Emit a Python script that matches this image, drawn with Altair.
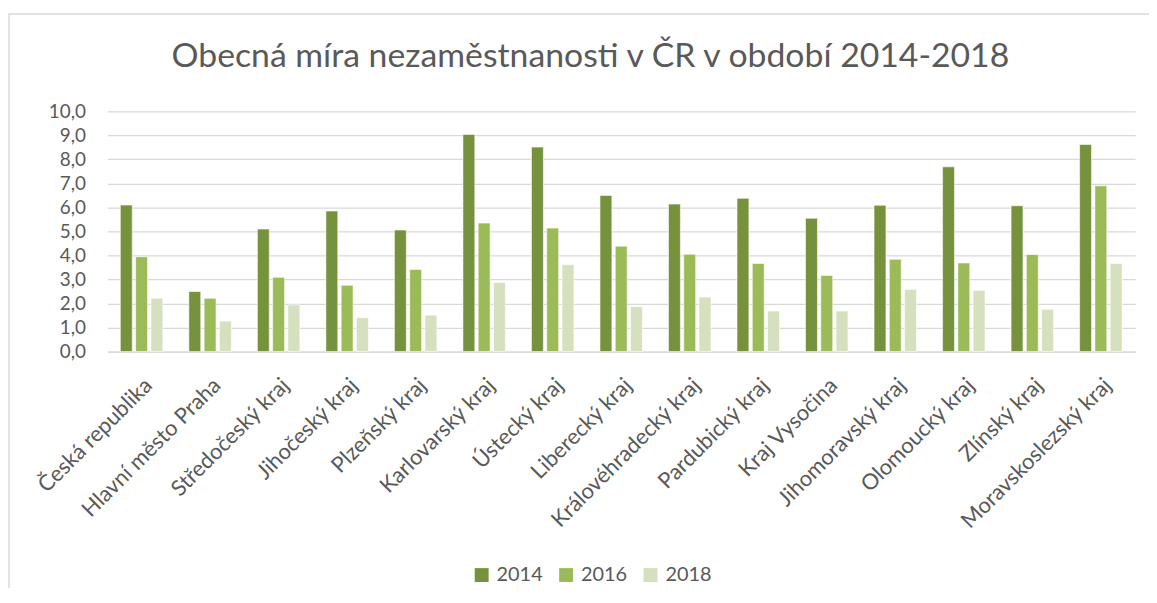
import altair as alt
import pandas as pd

regions = [
    "Česká republika", "Hlavní město Praha", "Středočeský kraj", "Jihočeský kraj",
    "Plzeňský kraj", "Karlovarský kraj", "Ústecký kraj", "Liberecký kraj",
    "Královéhradecký kraj", "Pardubický kraj", "Kraj Vysočina", "Jihomoravský kraj",
    "Olomoucký kraj", "Zlínský kraj", "Moravskoslezský kraj",
]
years = ["2014", "2016", "2018"]
v2014 = [6.1, 2.5, 5.1, 5.85, 5.06, 9.04, 8.51, 6.5, 6.14, 6.38, 5.55, 6.09, 7.69, 6.07, 8.62]
v2016 = [3.95, 2.22, 3.09, 2.76, 3.42, 5.35, 5.14, 4.39, 4.05, 3.67, 3.17, 3.84, 3.69, 4.04, 6.9]
v2018 = [2.22, 1.27, 1.94, 1.41, 1.52, 2.88, 3.62, 1.87, 2.27, 1.69, 1.69, 2.59, 2.55, 1.76, 3.67]
colors = ["#76923c", "#9bbb59", "#d4e0be"]

rows = []
for yr, vals in zip(years, [v2014, v2016, v2018]):
    for r, v in zip(regions, vals):
        rows.append({"region": r, "year": yr, "value": v})
df = pd.DataFrame(rows)

FONT = "Lato"
TXT = "#595959"
GRID = "#d9d9d9"

bars = alt.Chart(df).mark_bar(stroke="white", strokeWidth=0.6).encode(
    x=alt.X(
        "region:N",
        sort=regions,
        title=None,
        scale=alt.Scale(paddingInner=0.38, paddingOuter=0.19),
        axis=alt.Axis(
            labelAngle=-45, labelFontSize=22, labelColor=TXT, labelFont=FONT,
            ticks=False, domainColor=GRID, domainWidth=1.3, labelPadding=23,
            labelLimit=400,
        ),
    ),
    xOffset=alt.XOffset("year:N", sort=years, scale=alt.Scale(paddingInner=0.22)),
    y=alt.Y(
        "value:Q",
        title=None,
        scale=alt.Scale(domain=[0, 10], nice=False),
        axis=alt.Axis(
            values=list(range(0, 11)),
            labelExpr="replace(format(datum.value, '.1f'), '.', ',')",
            labelFontSize=19, labelColor=TXT, labelFont=FONT, labelPadding=22,
            ticks=False, domain=False, gridColor=GRID, gridWidth=1.3,
        ),
    ),
    color=alt.Color(
        "year:N",
        sort=years,
        scale=alt.Scale(domain=years, range=colors),
        legend=alt.Legend(
            title=None, orient="none", direction="horizontal",
            legendX=367, legendY=457, symbolType="square", symbolSize=196,
            symbolStrokeWidth=0, labelFontSize=20, labelColor=TXT, labelFont=FONT,
            labelOffset=5, columnPadding=13, padding=0,
        ),
    ),
)

frame = alt.Chart(pd.DataFrame({"k": [0]})).mark_rect(
    fill=None, stroke=GRID, strokeWidth=1.5
).encode(
    x=alt.value(-99), x2=alt.value(1200), y=alt.value(-98), y2=alt.value(700)
)

chart = alt.layer(frame, bars).properties(
    width=1035,
    height=242,
    padding={"left": 100, "top": 102, "right": 14, "bottom": 236},
    autosize=alt.AutoSizeParams(type="none"),
    title=alt.TitleParams(
        "Obecná míra nezaměstnanosti v ČR v období 2014-2018",
        fontSize=34, font=FONT, color=TXT, fontWeight="normal",
        anchor="middle", dx=-31, offset=-61,
    ),
).configure_view(stroke=None)

chart.save("out.html", embed_options={"renderer": "svg", "actions": False})
